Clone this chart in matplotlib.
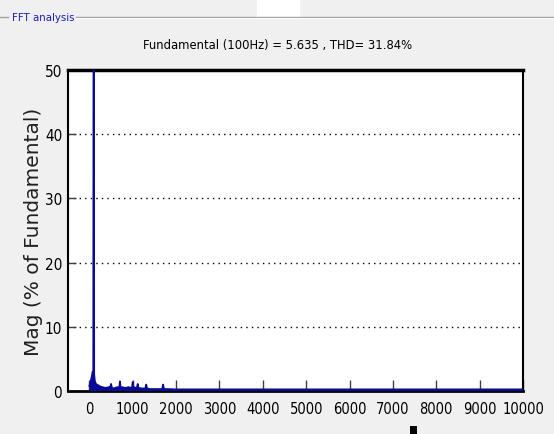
import matplotlib.pyplot as plt
import matplotlib.patches as mpatches
from matplotlib import font_manager
import numpy as np

# ── Data ─────────────────────────────────────────────────────────────────────
title_text = "Fundamental (100Hz) = 5.635 , THD= 31.84%"
panel_text = "FFT analysis"
ylabel_text = "Mag (% of Fundamental)"

# spectrum outline: frequency (Hz) and magnitude (% of fundamental)
freq_hz = [0, 20, 40, 60, 75, 90, 100, 110, 125, 150, 200, 250, 300, 350,
           400, 450, 480, 500, 520, 560, 600, 650, 690, 705, 720, 760, 800,
           850, 900, 950, 985, 1000, 1015, 1060, 1100, 1115, 1130, 1200, 1250,
           1290, 1310, 1330, 1400, 1500, 1600, 1680, 1700, 1720, 1760, 1800,
           2000, 10000]
mag_pct = [0.8, 1.2, 1.8, 2.4, 3.0, 2.8, 100.0, 2.6, 1.6, 1.1, 0.9, 0.7,
           0.6, 0.5, 0.5, 0.6, 0.5, 1.1, 0.5, 0.4, 0.5, 0.6, 0.5, 1.5, 0.5,
           0.6, 0.5, 0.5, 0.6, 0.5, 0.6, 1.4, 0.6, 0.5, 0.6, 1.1, 0.5, 0.4,
           0.4, 0.4, 1.0, 0.4, 0.3, 0.3, 0.3, 0.3, 1.0, 0.3, 0.3, 0.3, 0.25,
           0.25]

xticks = np.arange(0, 10001, 1000)
yticks = np.arange(0, 51, 10)

# ── Fonts: pick the narrowest regular sans face installed ────────────────────
rank = {"ultra-condensed": 0, "extra-condensed": 1, "condensed": 2,
        "semi-condensed": 3}
best = None
for f in font_manager.fontManager.ttflist:
    nm = f.name.lower()
    if "mono" in nm or "serif" in nm or "cjk" in nm:
        continue
    if f.style != "normal" or f.weight not in (400, "normal", "regular"):
        continue
    r = rank.get(f.stretch, None)
    if r is None:
        if "extracondensed" in nm.replace(" ", ""):
            r = 1
        elif "narrow" in nm or "condensed" in nm:
            r = 2
        else:
            continue
    if best is None or r < best[0]:
        best = (r, f.fname)

narrow_path = best[1] if best else None


def nfont(size):
    if narrow_path:
        return font_manager.FontProperties(fname=narrow_path, size=size)
    return font_manager.FontProperties(family="Liberation Sans", size=size * 0.8)


BG = "#F0F0F0"
BLUE = "#0A0A9A"

fig = plt.figure(figsize=(5.54, 4.35), dpi=100, facecolor=BG)

# panel header: "- FFT analysis ————"
y_hdr = 1 - 18 / 435
fig.add_artist(plt.Line2D([0, 8 / 554], [y_hdr] * 2, color="#A0A0A0", lw=1))
fig.add_artist(plt.Line2D([76 / 554, 1], [y_hdr] * 2, color="#A0A0A0", lw=1))
fig.add_artist(plt.Line2D([76 / 554, 1], [y_hdr - 1 / 435] * 2, color="#FFFFFF", lw=0.8))
fig.text(12 / 554, y_hdr, panel_text, color="#1A1AC8", fontproperties=nfont(8.2),
         va="center", ha="left")
fig.add_artist(mpatches.Rectangle((257 / 554, y_hdr), 43 / 554, 18 / 435,
                                  transform=fig.transFigure, color="white", lw=0))
fig.add_artist(mpatches.Rectangle((410 / 554, 0), 7 / 554, 8 / 435,
                                  transform=fig.transFigure, color="black", lw=0))

fig.text(278 / 554, 1 - 45 / 435, title_text, fontproperties=nfont(9.3),
         ha="center", va="center", color="black")

ax = fig.add_axes([67.7 / 554, 43 / 435, (523 - 67.7) / 554, (392 - 71) / 435])
ax.set_facecolor("white")

ax.fill_between(freq_hz, mag_pct, 0, color=BLUE, lw=0, zorder=3)
ax.plot(freq_hz, mag_pct, color=BLUE, lw=1.3, zorder=3)

ax.set_xlim(-500, 10000)
ax.set_ylim(0, 50)
ax.set_xticks(xticks)
ax.set_yticks(yticks)
ax.set_xticklabels([str(v) for v in xticks], fontproperties=nfont(10.5))
ax.set_yticklabels([str(v) for v in yticks], fontproperties=nfont(11))
ax.tick_params(axis="x", direction="in", length=8, width=1, color="#404040", pad=7)
ax.tick_params(axis="y", direction="in", length=6, width=1, color="#404040", pad=4)
ax.yaxis.grid(True, color="black", linestyle=(0, (1, 3)), lw=1)
ax.set_axisbelow(True)

for side, spine in ax.spines.items():
    spine.set_color("black")
    spine.set_linewidth(1.5)
ax.spines["top"].set_linewidth(2.5)
ax.spines["bottom"].set_linewidth(2)

ax.set_ylabel(ylabel_text, fontsize=14.5, family="DejaVu Sans", color="#202020")
ax.yaxis.set_label_coords(-0.054, 0.5)

plt.savefig("out.png", dpi=100, facecolor=BG)
